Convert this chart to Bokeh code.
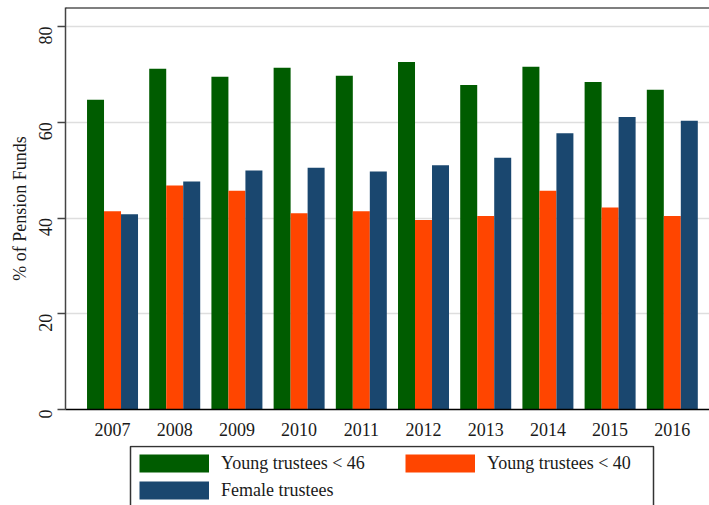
import math
from bokeh.plotting import figure
from bokeh.layouts import column
from bokeh.models import (ColumnDataSource, Range1d, FixedTicker, Legend, LegendItem, Span,
                          BoxAnnotation)
from bokeh.transform import dodge
from bokeh.embed import file_html
from bokeh.resources import INLINE

years = [2007, 2008, 2009, 2010, 2011, 2012, 2013, 2014, 2015, 2016]
young_46 = [64.7, 71.2, 69.5, 71.4, 69.7, 72.6, 67.8, 71.6, 68.4, 66.8]
young_40 = [41.4, 46.8, 45.7, 41.0, 41.4, 39.6, 40.4, 45.7, 42.2, 40.4]
female = [40.8, 47.6, 49.9, 50.5, 49.7, 51.0, 52.6, 57.7, 61.1, 60.3]
y_ticks = [0, 20, 40, 60, 80]
labels = ["Young trustees < 46", "Young trustees < 40", "Female trustees"]

GREEN = "#005c00"
ORANGE = "#ff4500"
BLUE = "#1a476f"
FONT = "Liberation Serif"
FS = "18px"
TXT = "#1a1a1a"

Y_END = 83.97

src = ColumnDataSource(dict(year=years, y46=young_46, y40=young_40, fem=female))

p = figure(width=709, height=445, output_backend="svg", toolbar_location=None,
           x_range=Range1d(2006.244, 2016.598), y_range=Range1d(0, Y_END),
           min_border_left=65, min_border_right=0, min_border_top=7, min_border_bottom=36)
p.outline_line_color = None
p.background_fill_color = "white"
p.border_fill_color = "white"

W = 0.2733
p.vbar(x=dodge("year", -W, range=p.x_range), top="y46", width=W, bottom=0, source=src,
       fill_color=GREEN, line_color=None)
p.vbar(x=dodge("year", 0, range=p.x_range), top="y40", width=W, bottom=0, source=src,
       fill_color=ORANGE, line_color=None)
p.vbar(x=dodge("year", W, range=p.x_range), top="fem", width=W, bottom=0, source=src,
       fill_color=BLUE, line_color=None)

# top frame line
p.add_layout(Span(location=Y_END, dimension="width", line_color="black", line_width=2))

# grid
p.xgrid.visible = False
p.ygrid.ticker = FixedTicker(ticks=y_ticks[1:])
p.ygrid.grid_line_color = "#dedede"
p.ygrid.grid_line_width = 1.6

# y axis
p.yaxis.ticker = FixedTicker(ticks=y_ticks)
p.yaxis.axis_label = "% of Pension Funds"
p.yaxis.axis_label_text_font = FONT
p.yaxis.axis_label_text_font_size = FS
p.yaxis.axis_label_text_font_style = "normal"
p.yaxis.axis_label_text_color = TXT
p.yaxis.axis_label_standoff = 0
p.yaxis.major_label_text_font = FONT
p.yaxis.major_label_text_font_size = FS
p.yaxis.major_label_text_color = TXT
p.yaxis.major_label_orientation = math.pi / 2
p.yaxis.major_label_standoff = 12
p.yaxis.major_tick_out = 8
p.yaxis.major_tick_in = 0
p.yaxis.minor_tick_line_color = None
p.yaxis.axis_line_color = "#444444"
p.yaxis.axis_line_width = 1.5
p.yaxis.major_tick_line_color = "#444444"
p.yaxis.major_tick_line_width = 1.5

# x axis
p.xaxis.ticker = FixedTicker(ticks=years)
p.xaxis.major_label_overrides = {y: str(y) for y in years}
p.xaxis.major_label_text_font = FONT
p.xaxis.major_label_text_font_size = FS
p.xaxis.major_label_text_color = TXT
p.xaxis.major_label_standoff = 7
p.xaxis.major_tick_line_color = None
p.xaxis.minor_tick_line_color = None
p.xaxis.axis_line_color = "black"
p.xaxis.axis_line_width = 1.5

# ---- legend strip below the chart (frame aligned with the chart frame) ----
q = figure(width=709, height=60, output_backend="svg", toolbar_location=None,
           x_range=Range1d(0, 1), y_range=Range1d(0, 1),
           x_axis_location=None, y_axis_location=None,
           min_border_left=65, min_border_right=0, min_border_top=0, min_border_bottom=0)
q.grid.visible = False
q.outline_line_color = None
q.background_fill_color = "white"
q.border_fill_color = "white"

# legend box outline (screen units, relative to the strip's frame)
q.add_layout(BoxAnnotation(left=65, right=588, top=59, bottom=-10,
                           left_units="screen", right_units="screen",
                           top_units="screen", bottom_units="screen",
                           fill_color=None, fill_alpha=0,
                           line_color="#333333", line_width=1.5, line_alpha=1))

# swatch renderers: lines lying outside the visible range, used only for legend glyphs
r46 = q.line(x=[5, 6], y=[5, 5], line_color=GREEN, line_width=18, line_cap="butt")
r40 = q.line(x=[5, 6], y=[5, 5], line_color=ORANGE, line_width=18, line_cap="butt")
rfem = q.line(x=[5, 6], y=[5, 5], line_color=BLUE, line_width=18, line_cap="butt")

def style(lg):
    lg.glyph_width = 70
    lg.glyph_height = 22
    lg.label_standoff = 12
    lg.label_text_font = FONT
    lg.label_text_font_size = FS
    lg.label_text_color = TXT
    lg.padding = 0
    lg.spacing = 5
    lg.margin = 0
    lg.border_line_color = None
    lg.background_fill_alpha = 0

leg1 = Legend(items=[LegendItem(label=labels[0], renderers=[r46]),
                     LegendItem(label=labels[2], renderers=[rfem])],
              location=(74, 4))
style(leg1)

leg2 = Legend(items=[LegendItem(label=labels[1], renderers=[r40])],
              location=(340, 31))
style(leg2)

q.add_layout(leg1, "center")
q.add_layout(leg2, "center")

layout = column(p, q, spacing=0)
open("out.html", "w").write(file_html(layout, INLINE))
